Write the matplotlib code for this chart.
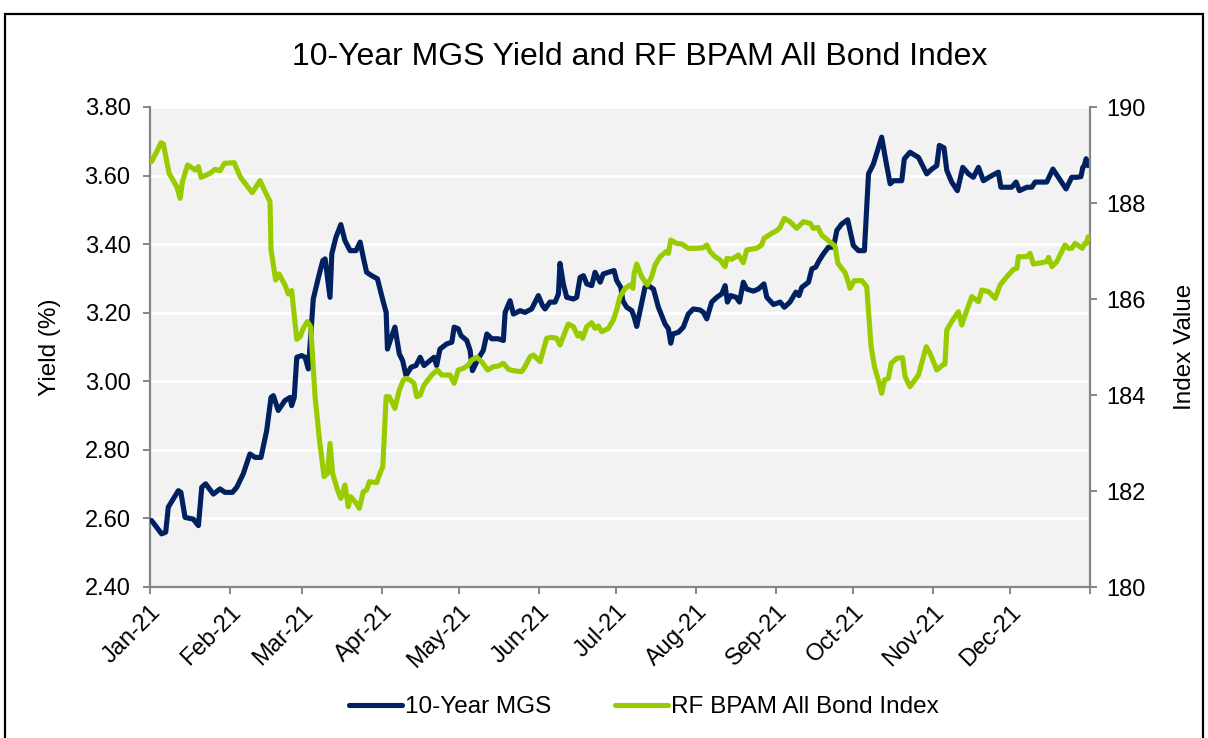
import numpy as np
import pandas as pd
import matplotlib
matplotlib.use("Agg")
import matplotlib.pyplot as plt
import matplotlib.dates as mdates
from matplotlib.patches import Rectangle
from matplotlib.ticker import FormatStrFormatter, MultipleLocator, FuncFormatter

plt.rcParams['font.family'] = ['Liberation Sans', 'DejaVu Sans']

# ---- data ----
# days since 2021-01-01
mgs_days = [0.6, 4.5, 6.1, 7.1, 11.0, 12.0, 13.6, 16.8, 18.8, 20.1, 21.6, 24.6, 27.2, 29.1, 32.0, 33.7,
            36.2, 38.8, 40.8, 43.1, 45.3, 47.0, 47.9, 49.8, 52.4, 54.4, 55.0, 56.0, 57.0, 58.9,
            60.2, 61.5, 63.4, 65.4, 67.1, 68.0, 69.9, 70.6, 72.2, 74.1, 75.7, 77.7, 80.0, 81.6, 82.8,
            84.1, 86.1, 88.3, 90.6, 91.7, 92.2, 93.5, 95.1, 96.8, 98.1, 99.4, 101.4, 103.3, 104.9,
            106.4, 108.7, 110.3, 111.3, 112.6, 115.2, 117.2, 118.1,
            119.7, 120.8, 123.0, 124.3, 125.2, 126.5, 128.2, 129.4, 130.8, 132.7, 135.3, 137.2, 137.9,
            139.8, 141.1, 143.7, 145.6, 148.2, 150.8, 152.4, 153.4, 155.3, 157.3, 158.6, 159.2, 160.5,
            161.8, 164.4, 165.7, 167.0, 168.3, 169.6, 171.5, 172.8, 174.8, 176.0, 178.0,
            180.2, 181.2, 182.8, 183.6, 185.1, 187.1, 188.0, 189.0, 190.3, 192.2, 193.5, 195.5, 197.4,
            200.0, 201.3, 202.2, 203.0, 205.2, 207.1, 209.0, 211.0, 213.6, 214.9, 216.2, 218.1, 220.1,
            222.0, 223.3, 224.2, 225.5, 227.6, 228.9, 230.4, 231.7, 234.3, 236.2, 238.4, 239.5,
            242.1, 244.7, 246.3, 248.5, 250.8, 252.0, 253.1, 255.7, 257.0, 258.5, 259.8, 261.5, 263.4,
            265.4, 266.7, 268.6, 270.9, 271.8, 273.1, 275.1, 277.4, 279.0, 280.9, 284.1, 285.7, 287.4,
            288.7, 291.9, 292.9, 295.1, 298.4,
            301.6, 303.6, 305.5, 306.5, 308.3, 309.4, 311.3, 313.5, 315.6, 317.8, 319.7, 321.7, 323.6,
            326.9, 329.4, 330.4, 334.6, 336.3, 337.6, 340.5, 342.4, 343.7, 346.3, 348.2, 350.6, 352.7,
            355.7, 357.9, 359.9, 361.5, 362.2, 362.8, 363.5, 364.3]
mgs_yield = [2.594, 2.555, 2.560, 2.633, 2.681, 2.676, 2.603, 2.598, 2.579, 2.691, 2.701, 2.671, 2.686,
             2.676, 2.676, 2.691, 2.730, 2.788, 2.778, 2.778, 2.856, 2.953, 2.958, 2.915, 2.944, 2.953,
             2.929, 2.953, 3.070, 3.075,
             3.070, 3.036, 3.240, 3.303, 3.352, 3.357, 3.245, 3.372, 3.420, 3.457, 3.410, 3.381, 3.381,
             3.406, 3.362, 3.318, 3.308, 3.299, 3.231, 3.201, 3.094, 3.124, 3.158, 3.080, 3.060, 3.017,
             3.041, 3.046, 3.070, 3.046, 3.060, 3.070, 3.046, 3.094, 3.109, 3.114, 3.158,
             3.153, 3.133, 3.119, 3.090, 3.031, 3.051, 3.075, 3.090, 3.138, 3.124, 3.124, 3.119, 3.201,
             3.235, 3.196, 3.206, 3.201, 3.211, 3.250, 3.221, 3.211, 3.231, 3.231, 3.255, 3.344, 3.284,
             3.245, 3.240, 3.245, 3.303, 3.308, 3.284, 3.279, 3.318, 3.289, 3.313, 3.318,
             3.323, 3.294, 3.274, 3.235, 3.216, 3.206, 3.187, 3.160, 3.206, 3.274, 3.279, 3.269, 3.216,
             3.167, 3.153, 3.111, 3.138, 3.143, 3.158, 3.196, 3.211, 3.208, 3.201, 3.182, 3.231, 3.245,
             3.255, 3.279, 3.231, 3.250, 3.245, 3.231, 3.289, 3.269, 3.263, 3.269, 3.284, 3.245,
             3.224, 3.231, 3.216, 3.231, 3.260, 3.250, 3.274, 3.289, 3.328, 3.333, 3.352, 3.372, 3.391,
             3.391, 3.440, 3.459, 3.471, 3.440, 3.396, 3.381, 3.381, 3.605, 3.634, 3.712, 3.644, 3.576,
             3.585, 3.585, 3.649, 3.668, 3.653,
             3.605, 3.619, 3.629, 3.688, 3.681, 3.615, 3.581, 3.556, 3.624, 3.605, 3.595, 3.624, 3.585,
             3.600, 3.610, 3.566, 3.566, 3.581, 3.556, 3.566, 3.566, 3.581, 3.581, 3.581, 3.619, 3.595,
             3.561, 3.595, 3.595, 3.597, 3.624, 3.629, 3.649, 3.629]

bpam_days = [0.6, 2.6, 4.3, 5.2, 7.4, 10.4, 11.7, 12.6, 14.6, 17.5, 18.8, 19.8, 21.1, 23.3, 25.2, 27.2,
             28.9, 32.7, 35.0, 36.9, 39.7, 42.7, 44.7, 46.6, 47.0, 48.8, 50.1, 52.4, 53.7, 55.0, 57.0,
             58.3, 59.5, 61.1, 62.4, 64.1, 65.8, 67.6, 68.9, 69.9, 70.9, 72.8, 74.1, 75.7, 77.0, 77.9,
             79.6, 81.3, 82.8, 84.1, 85.2, 88.0, 89.3, 90.4, 91.7, 92.9, 95.1, 96.8, 98.4, 99.4, 101.0,
             102.5, 103.6, 104.9, 106.4, 109.4, 111.6, 113.3, 116.5, 118.1,
             119.7, 121.7, 123.6, 124.9, 126.9, 128.8, 131.1, 133.3, 135.3, 137.2, 139.2, 141.1, 144.3,
             145.6, 147.6, 148.9, 151.5, 154.0, 156.0, 157.9, 159.2, 161.2, 162.4, 164.4, 166.1, 167.0,
             168.0, 169.6, 171.5, 172.8, 174.1, 175.4, 178.0,
             179.9, 181.2, 182.5, 184.5, 186.4, 187.5, 188.0, 189.0, 190.9, 193.1, 194.8, 196.1, 198.1,
             200.4, 201.3, 202.2, 204.3, 206.5, 209.0, 212.3, 214.9, 216.2, 217.5, 219.4, 221.4, 223.3,
             224.0, 225.9, 228.5, 230.4, 231.7, 233.7, 235.6, 237.5, 238.4,
             241.4, 243.4, 244.7, 246.3, 248.5, 251.1, 253.7, 256.3, 257.6, 259.3, 260.8, 263.4, 266.0,
             267.1, 269.9, 270.9, 271.8, 273.5, 276.4, 278.3, 280.0, 281.3, 282.8, 284.1, 285.2, 286.7,
             287.8, 290.0, 292.2, 293.2, 295.1, 298.4,
             301.4, 302.9, 305.5, 307.8, 308.7, 309.4, 311.3, 313.9, 315.2, 316.5, 319.1, 321.7, 323.0,
             325.6, 328.2, 330.1, 332.7, 335.3, 336.6, 337.2, 340.5, 341.7, 343.0, 346.3, 348.2, 348.9,
             350.2, 352.1, 355.3, 356.6, 357.9, 359.2, 362.0, 363.0, 363.6, 364.3]
bpam_index = [188.861, 189.069, 189.257, 189.229, 188.618, 188.340, 188.097, 188.444, 188.792, 188.688,
              188.757, 188.535, 188.563, 188.618, 188.701, 188.674, 188.826, 188.840, 188.549, 188.410,
              188.215, 188.465, 188.236, 188.028, 187.021, 186.396, 186.521, 186.292, 186.104, 186.174,
              185.160,
              185.215, 185.389, 185.528, 185.424, 183.965, 183.063, 182.299, 182.368, 182.993, 182.368,
              182.021, 181.847, 182.125, 181.674, 181.882, 181.778, 181.639, 181.986, 182.021, 182.194,
              182.174, 182.368, 182.507, 183.965, 183.965, 183.722, 184.104, 184.313, 184.347, 184.313,
              184.243, 183.965, 184.000, 184.208, 184.417, 184.521, 184.417, 184.417, 184.243,
              184.521, 184.556, 184.625, 184.729, 184.785, 184.694, 184.521, 184.590, 184.604, 184.660,
              184.535, 184.507, 184.486, 184.590, 184.799, 184.833, 184.694, 185.181, 185.201, 185.181,
              185.042, 185.319, 185.479, 185.424, 185.229, 185.285, 185.181, 185.424, 185.507, 185.389,
              185.438, 185.319, 185.389,
              185.563, 185.771, 186.049, 186.222, 186.292, 186.222, 186.535, 186.729, 186.465, 186.292,
              186.465, 186.708, 186.882, 186.986, 186.951, 187.229, 187.160, 187.146, 187.056, 187.056,
              187.069, 187.125, 186.986, 186.882, 186.813, 186.674, 186.847, 186.826, 186.917, 186.757,
              187.021, 187.042, 187.056, 187.125, 187.264,
              187.368, 187.424, 187.493, 187.681, 187.611, 187.472, 187.611, 187.576, 187.472, 187.493,
              187.333, 187.215, 187.104, 186.743, 186.549, 186.396, 186.222, 186.382, 186.382, 186.257,
              185.007, 184.590, 184.313, 184.035, 184.313, 184.347, 184.660, 184.764, 184.778, 184.382,
              184.174, 184.417,
              185.007, 184.868, 184.521, 184.625, 184.646, 185.354, 185.528, 185.736, 185.458, 185.667,
              186.049, 185.944, 186.188, 186.153, 186.014, 186.292, 186.465, 186.618, 186.639, 186.882,
              186.882, 186.951, 186.729, 186.757, 186.778, 186.868, 186.674, 186.778, 187.125, 187.056,
              187.056, 187.160, 187.056, 187.160, 187.160, 187.299]

title = "10-Year MGS Yield and RF BPAM All Bond Index"
series_names = ["10-Year MGS", "RF BPAM All Bond Index"]
y_label_left = "Yield (%)"
y_label_right = "Index Value"

# ---- plot ----
base = pd.Timestamp("2021-01-01")
end = pd.Timestamp("2022-01-01")
mgs_dates = base + pd.to_timedelta(mgs_days, unit="D")
bpam_dates = base + pd.to_timedelta(bpam_days, unit="D")

NAVY = "#002060"
GREEN = "#99CC00"
GREY = "#868686"
FS = 17

fig = plt.figure(figsize=(12.08, 7.38), dpi=100)
fig.patches.append(Rectangle((5 / 1208, -0.05), 1198 / 1208, 1 - 14 / 738 + 0.05,
                             transform=fig.transFigure, fill=False, edgecolor="black",
                             linewidth=1.6, zorder=0))

ax = fig.add_axes([150 / 1208, 1 - 587 / 738, 940 / 1208, 480 / 738])
ax.set_facecolor("#F2F2F2")
ax2 = ax.twinx()

l1, = ax.plot(mgs_dates, mgs_yield, color=NAVY, lw=3.7, solid_joinstyle="round",
              solid_capstyle="round", label=series_names[0], zorder=3)
l2, = ax2.plot(bpam_dates, bpam_index, color=GREEN, lw=3.7, solid_joinstyle="round",
               solid_capstyle="round", label=series_names[1], zorder=3)

ax.set_ylim(2.40, 3.80)
ax.yaxis.set_major_locator(MultipleLocator(0.2))
ax.yaxis.set_major_formatter(FormatStrFormatter("%.2f"))
ax2.set_ylim(180, 190)
ax2.yaxis.set_major_locator(MultipleLocator(2))

ax.set_xlim(base, end)
ax.xaxis.set_major_locator(mdates.MonthLocator())
end_num = mdates.date2num(end)


def month_fmt(x, pos):
    if abs(x - end_num) < 0.5:
        return ""
    return mdates.num2date(x).strftime("%b-%y")


ax.xaxis.set_major_formatter(FuncFormatter(month_fmt))
for lbl in ax.get_xticklabels():
    lbl.set_rotation(45)
    lbl.set_ha("right")
    lbl.set_va("top")
    lbl.set_rotation_mode("anchor")

ax.grid(axis="y", color="white", lw=2.0)
ax.set_axisbelow(True)

for a in (ax, ax2):
    for s in a.spines.values():
        s.set_visible(False)
ax.spines["left"].set_visible(True)
ax.spines["bottom"].set_visible(True)
ax2.spines["right"].set_visible(True)
for sp in (ax.spines["left"], ax.spines["bottom"], ax2.spines["right"]):
    sp.set_color(GREY)
    sp.set_linewidth(1.6)

ax.tick_params(axis="both", colors=GREY, labelcolor="black", labelsize=FS, length=5, width=1.4,
               direction="out")
ax.tick_params(axis="y", pad=9)
ax.tick_params(axis="x", pad=5)
ax2.tick_params(axis="y", colors=GREY, labelcolor="black", labelsize=FS, length=5, width=1.4,
                direction="out", pad=7)

ax.set_ylabel(y_label_left, fontsize=17.5, labelpad=17)
ax2.set_ylabel(y_label_right, fontsize=17.5, labelpad=20)

fig.text(640 / 1208, 1 - 57 / 738, title, ha="center", va="center", fontsize=23)

fig.legend([l1, l2], series_names, loc="center", bbox_to_anchor=(644 / 1208, 1 - 707 / 738),
           ncol=2, frameon=False, fontsize=17.5, handlelength=2.2, handletextpad=0.12,
           columnspacing=2.6)

fig.savefig("out.png", dpi=100)
